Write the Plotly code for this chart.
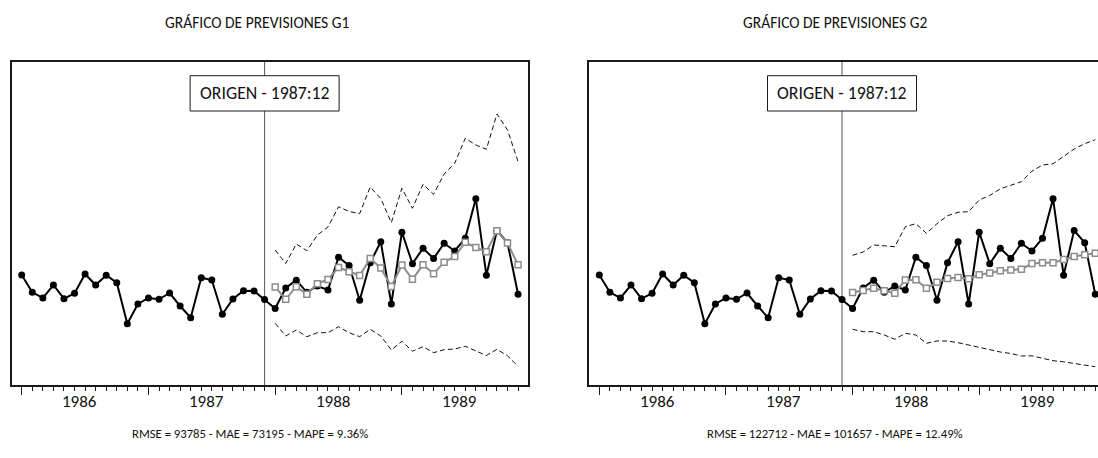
import plotly.graph_objects as go

W, H = 1098, 458

# ---------------- data (thousands) ----------------
meses = list(range(48))            # 0 = 1986:01 ... 47 = 1989:12
meses_prev = list(range(24, 48))   # 1988:01 ... 1989:12
origen = 23                        # 1987:12

real = [732.6, 647.0, 618.8, 683.1, 615.3, 642.0, 737.6, 683.1, 731.1, 694.5, 491.5, 589.1,
        618.8, 612.3, 643.5, 579.2, 521.2, 719.2, 707.9, 538.1, 613.8, 654.9, 653.4, 611.3,
        566.8, 668.3, 706.9, 647.0, 678.2, 658.4, 820.7, 779.6, 607.4, 793.5, 897.4, 589.1,
        944.5, 788.5, 865.3, 814.3, 889.5, 851.4, 914.3, 1110.3, 731.6, 952.9, 892.5, 637.1]

prev_g1 = [673.2, 612.3, 674.7, 637.1, 689.5, 710.3, 769.7, 748.4, 730.1, 814.3, 767.3, 675.7,
           782.1, 711.3, 783.1, 739.0, 796.0, 824.2, 894.5, 868.7, 847.4, 951.9, 891.0, 783.1]
sup_g1 = [856.4, 789.5, 886.1, 852.9, 930.6, 970.2, 1070.2, 1046.9, 1036.5, 1168.2, 1111.3, 991.5,
          1161.8, 1062.8, 1181.6, 1132.1, 1232.6, 1285.5, 1409.3, 1376.1, 1354.8, 1529.6, 1450.4, 1293.4]
inf_g1 = [493.5, 430.7, 460.4, 427.2, 447.0, 447.0, 476.7, 447.0, 427.2, 463.8, 430.7, 361.4,
          404.4, 355.4, 377.7, 348.0, 362.8, 366.3, 379.7, 354.9, 334.1, 364.8, 332.6, 280.7]

prev_g2 = [646.0, 655.9, 667.3, 654.9, 642.0, 707.9, 708.8, 667.3, 696.5, 715.3, 720.2, 714.3,
           733.6, 742.5, 753.9, 757.4, 760.8, 789.5, 793.5, 793.0, 809.3, 824.2, 833.1, 840.5]
sup_g2 = [830.1, 846.5, 881.1, 877.1, 872.7, 971.7, 986.5, 939.0, 986.5, 1026.1, 1043.0, 1045.9,
          1103.9, 1126.1, 1159.3, 1176.6, 1194.4, 1246.4, 1277.1, 1283.0, 1318.2, 1356.3, 1382.5, 1402.3]
inf_g2 = [463.8, 451.9, 451.9, 435.6, 414.3, 444.0, 435.6, 394.5, 405.9, 405.9, 397.5, 386.1,
          371.3, 361.4, 351.5, 344.0, 331.7, 332.6, 319.3, 308.4, 302.9, 295.5, 287.1, 278.7]

anios = ["1986", "1987", "1988", "1989"]
pos_anios = [5.5, 17.5, 29.5, 41.5]
ticks_anios = [0, 12, 24, 36]

titulos = ["GRÁFICO DE PREVISIONES G1", "GRÁFICO DE PREVISIONES G2"]
etiqueta_origen = "ORIGEN - 1987:12"
metricas = ["RMSE = 93785 - MAE = 73195 - MAPE = 9.36%",
            "RMSE = 122712 - MAE = 101657 - MAPE = 12.49%"]

# ---------------- layout helpers ----------------
def px_x(p):
    return p / W

def px_y(p):
    return 1 - p / H

FONT = "Carlito, Calibri, Lato, sans-serif"
panels = [
    dict(dom=(11.7, 528.3), xr=(-0.95, 47.97), mirror_y=True,
         prev=prev_g1, sup=sup_g1, inf=inf_g1, tx=257, bx=250),
    dict(dom=(589.3, 1098.0), xr=(-0.95, 47.26), mirror_y=False,
         prev=prev_g2, sup=sup_g2, inf=inf_g2, tx=835, bx=835),
]
y_top, y_bot = 61.7, 385.0
y_range = [188.1, 1788.4]

fig = go.Figure()
shapes, annotations = [], []

for i, p in enumerate(panels):
    n = "" if i == 0 else str(i + 1)
    xa, ya = "x" + n, "y" + n
    # bands
    for band in (p["sup"], p["inf"]):
        fig.add_trace(go.Scatter(x=meses_prev, y=band, mode="lines", xaxis=xa, yaxis=ya,
                                 line=dict(color="#111111", width=1, dash="5px,3px"),
                                 showlegend=False, hoverinfo="skip"))
    # actual series
    fig.add_trace(go.Scatter(x=meses, y=real, mode="lines+markers", xaxis=xa, yaxis=ya,
                             line=dict(color="#000000", width=2),
                             marker=dict(symbol="circle", size=7, color="#000000"),
                             showlegend=False))
    # forecasts
    fig.add_trace(go.Scatter(x=meses_prev, y=p["prev"], mode="lines+markers", xaxis=xa, yaxis=ya,
                             line=dict(color="#8c8c8c", width=2),
                             marker=dict(symbol="square", size=6, color="#ffffff",
                                         line=dict(color="#8c8c8c", width=1.5)),
                             showlegend=False))

    axis_x = dict(domain=[px_x(p["dom"][0]), px_x(p["dom"][1])], range=list(p["xr"]),
                  showgrid=False, zeroline=False, showticklabels=False,
                  showline=True, linecolor="#1a1a1a", linewidth=1.5, mirror=True,
                  ticks="outside", tickvals=ticks_anios, ticklen=8, tickwidth=1, tickcolor="#1a1a1a",
                  minor=dict(ticks="outside", dtick=1, tick0=0, ticklen=4, tickwidth=1,
                             tickcolor="#1a1a1a", showgrid=False),
                  anchor=ya, fixedrange=True)
    axis_y = dict(domain=[px_y(y_bot), px_y(y_top)], range=y_range,
                  showgrid=False, zeroline=False, showticklabels=False, ticks="",
                  showline=True, linecolor="#1a1a1a", linewidth=1.5, mirror=p["mirror_y"],
                  anchor=xa, fixedrange=True)
    fig.update_layout(**{"xaxis" + n: axis_x, "yaxis" + n: axis_y})

    # origin line and box
    shapes.append(dict(type="line", xref=xa, yref=ya + " domain", x0=origen, x1=origen, y0=0, y1=1,
                       line=dict(color="#555555", width=1), layer="below"))
    scale = (p["dom"][1] - p["dom"][0]) / (p["xr"][1] - p["xr"][0])
    half_w = 74.5 / scale
    shapes.append(dict(type="rect", xref=xa, yref="paper", x0=origen - half_w, x1=origen + half_w,
                       y0=px_y(111.0), y1=px_y(75.7), fillcolor="#ffffff",
                       line=dict(color="#1a1a1a", width=1), layer="above"))
    annotations.append(dict(text=etiqueta_origen, xref=xa, yref="paper", x=origen, y=px_y(93.5),
                            showarrow=False, xanchor="center", yanchor="middle",
                            font=dict(family=FONT, size=17.8, color="#111111")))
    # year labels
    for lab, pos in zip(anios, pos_anios):
        annotations.append(dict(text=lab, xref=xa, yref="paper", x=pos, y=px_y(401.5),
                                showarrow=False, xanchor="center", yanchor="middle",
                                font=dict(family=FONT, size=17, color="#111111")))
    # title and metrics
    annotations.append(dict(text=titulos[i], xref="paper", yref="paper", x=px_x(p["tx"]), y=px_y(22.5),
                            showarrow=False, xanchor="center", yanchor="middle",
                            font=dict(family=FONT, size=15.5, color="#111111")))
    annotations.append(dict(text=metricas[i], xref="paper", yref="paper", x=px_x(p["bx"]), y=px_y(433),
                            showarrow=False, xanchor="center", yanchor="middle",
                            font=dict(family=FONT, size=12.7, color="#111111")))

fig.update_layout(width=W, height=H, margin=dict(l=0, r=0, t=0, b=0),
                  paper_bgcolor="#ffffff", plot_bgcolor="#ffffff",
                  shapes=shapes, annotations=annotations, showlegend=False,
                  font=dict(family=FONT, color="#111111"))

fig.write_html("out.html", config={"displayModeBar": False},
               post_script="document.body.style.margin='0px';document.body.style.overflow='hidden';")
